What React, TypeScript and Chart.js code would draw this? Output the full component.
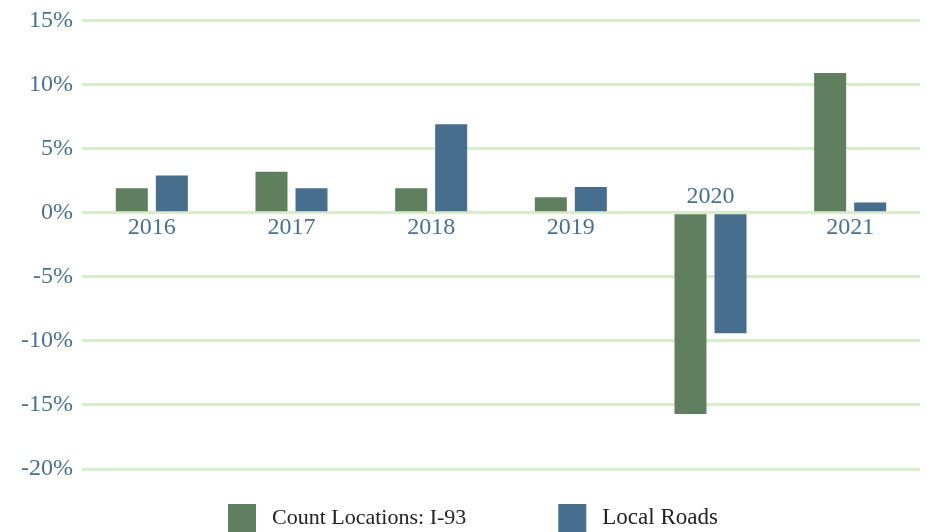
import React, { useEffect, useRef } from "react";
import { Chart, registerables } from "chart.js";

Chart.register(...registerables);

const categories = ["2016", "2017", "2018", "2019", "2020", "2021"];
const seriesNames = ["Count Locations: I-93", "Local Roads"];
const i93Values = [1.9, 3.2, 1.9, 1.2, -15.7, 10.9];
const localValues = [2.9, 1.9, 6.9, 2.0, -9.4, 0.8];
const yTicks = { min: -20, max: 15, step: 5 };

const GREEN = "#5f7f5f";
const BLUE = "#476e8d";
const TICK = "#4a7090";
const GRID = "#d7edcb";
const FONT = "'Liberation Serif', 'DejaVu Serif', serif";

const categoryLabelPlugin = {
  id: "categoryLabels",
  afterDatasetsDraw(chart: any) {
    const { ctx, scales } = chart;
    const x = scales.x;
    const y = scales.y;
    const zero = y.getPixelForValue(0);
    ctx.save();
    ctx.font = `24px ${FONT}`;
    ctx.fillStyle = TICK;
    ctx.textAlign = "center";
    categories.forEach((c, i) => {
      const px = x.getPixelForValue(i);
      const allNeg = chart.data.datasets.every((d: any) => d.data[i] < 0);
      if (allNeg) {
        ctx.textBaseline = "bottom";
        ctx.fillText(c, px, zero - 4);
      } else {
        ctx.textBaseline = "top";
        ctx.fillText(c, px, zero + 3);
      }
    });
    ctx.restore();
  },
};

const legendPlugin = {
  id: "customLegend",
  afterDraw(chart: any) {
    const { ctx } = chart;
    ctx.save();
    ctx.textBaseline = "middle";
    ctx.textAlign = "left";
    const colors = [GREEN, BLUE];
    const sizes = [22, 23];
    let xPos = 228;
    const top = 507;
    const box = 28;
    chart.data.datasets.forEach((d: any, i: number) => {
      ctx.font = `${sizes[i]}px ${FONT}`;
      ctx.fillStyle = colors[i];
      ctx.fillRect(xPos, top, box, box);
      ctx.fillStyle = "#222222";
      const tx = xPos + box + 16;
      ctx.fillText(d.label, tx, top + 14);
      xPos = tx + ctx.measureText(d.label).width + 92;
    });
    ctx.restore();
  },
};

export default function App() {
  const ref = useRef<HTMLCanvasElement>(null);
  useEffect(() => {
    if (!ref.current) return;
    const chart = new Chart(ref.current, {
      type: "bar",
      data: {
        labels: categories,
        datasets: [
          { label: seriesNames[0], data: i93Values, backgroundColor: GREEN },
          { label: seriesNames[1], data: localValues, backgroundColor: BLUE },
        ],
      },
      options: {
        animation: false,
        responsive: true,
        maintainAspectRatio: false,
        layout: { padding: { top: 16, right: 7, bottom: 63, left: 0 } },
        datasets: { bar: { categoryPercentage: 0.573, barPercentage: 0.8 } } as any,
        plugins: { legend: { display: false }, tooltip: { enabled: false } },
        scales: {
          x: { display: false, offset: true },
          y: {
            min: yTicks.min,
            max: yTicks.max,
            afterFit: (s: any) => { s.width = 82; },
            ticks: {
              stepSize: yTicks.step,
              color: TICK,
              padding: 9,
              font: { family: FONT, size: 24 },
              callback: (v: any) => `${v}%`,
            },
            grid: { color: GRID, lineWidth: 3, drawTicks: false },
            border: { display: false },
          },
        },
      },
      plugins: [categoryLabelPlugin, legendPlugin],
    });
    return () => chart.destroy();
  }, []);
  return (
    <div style={{ position: "absolute", left: 0, top: -3, width: 927, height: 535 }}>
      <canvas ref={ref} />
    </div>
  );
}
